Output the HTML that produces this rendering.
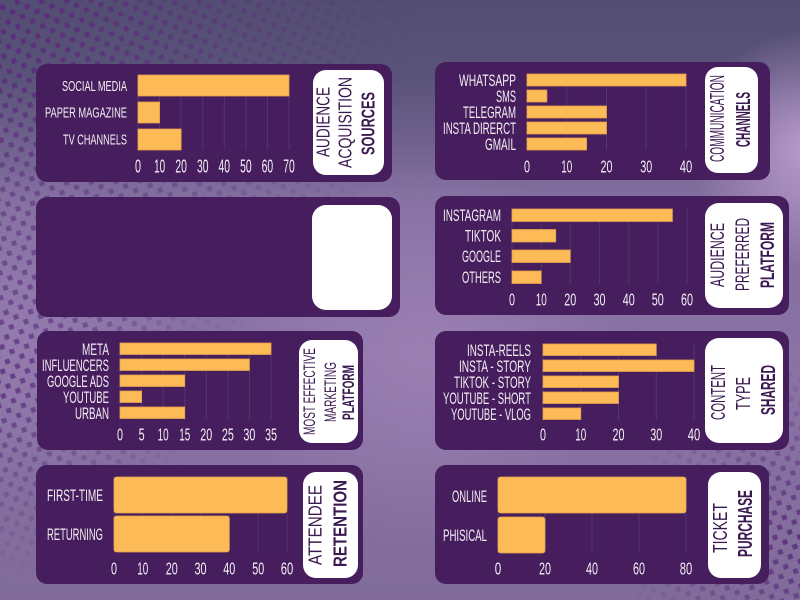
<!DOCTYPE html>
<html><head><meta charset="utf-8"><style>
html,body{margin:0;padding:0;background:#6e5f8e;}
svg{display:block;}
.lb{font-family:"Liberation Sans Narrow","Liberation Sans",sans-serif;fill:#f3edf3;}
.tt{font-family:"Liberation Sans Narrow","Liberation Sans",sans-serif;fill:#3a1850;}
.b{font-weight:bold;}
.bar{fill:#fdbb58;stroke:#e0a24a;stroke-width:0.8;}
.gl{stroke:#573271;stroke-width:1;}
.pn{fill:#461e5d;}
.wb{fill:#ffffff;}
</style></head><body>
<svg width="800" height="600" viewBox="0 0 800 600" xmlns="http://www.w3.org/2000/svg">
<defs>
<linearGradient id="bgv" x1="0" y1="0" x2="0" y2="1">
<stop offset="0" stop-color="#534d73"/>
<stop offset="0.13" stop-color="#5a5379"/>
<stop offset="0.33" stop-color="#826e9f"/>
<stop offset="0.6" stop-color="#8a73a6"/>
<stop offset="1" stop-color="#806b9a"/>
</linearGradient>
<radialGradient id="rtr" cx="810" cy="150" r="120" gradientUnits="userSpaceOnUse">
<stop offset="0" stop-color="#c3a2d6" stop-opacity="0.9"/>
<stop offset="1" stop-color="#c3a2d6" stop-opacity="0"/>
</radialGradient>
<radialGradient id="rmid" cx="420" cy="350" r="200" gradientUnits="userSpaceOnUse">
<stop offset="0" stop-color="#a788bb" stop-opacity="0.6"/>
<stop offset="1" stop-color="#a788bb" stop-opacity="0"/>
</radialGradient>
<radialGradient id="rl" cx="20" cy="330" r="160" gradientUnits="userSpaceOnUse">
<stop offset="0" stop-color="#9a80b4" stop-opacity="0.6"/>
<stop offset="1" stop-color="#9a80b4" stop-opacity="0"/>
</radialGradient>
<pattern id="dots" width="11" height="11" patternUnits="userSpaceOnUse" patternTransform="rotate(25)">
<rect x="3" y="3" width="5" height="5" transform="rotate(45 5.5 5.5)" fill="#5b2c7c"/>
</pattern>
<radialGradient id="m1" cx="0" cy="0" r="420" gradientUnits="userSpaceOnUse">
<stop offset="0" stop-color="#fff" stop-opacity="1"/>
<stop offset="1" stop-color="#fff" stop-opacity="0"/>
</radialGradient>
<radialGradient id="m2" cx="0" cy="380" r="200" gradientUnits="userSpaceOnUse">
<stop offset="0" stop-color="#fff" stop-opacity="0.8"/>
<stop offset="1" stop-color="#fff" stop-opacity="0"/>
</radialGradient>
<radialGradient id="m3" cx="800" cy="540" r="180" gradientUnits="userSpaceOnUse">
<stop offset="0" stop-color="#fff" stop-opacity="0.9"/>
<stop offset="1" stop-color="#fff" stop-opacity="0"/>
</radialGradient>
<mask id="dm">
<rect width="800" height="600" fill="url(#m1)"/>
<rect width="800" height="600" fill="url(#m2)"/>
<rect width="800" height="600" fill="url(#m3)"/>
</mask>
</defs>

<!-- background -->
<rect width="800" height="600" fill="url(#bgv)"/>
<rect width="800" height="600" fill="url(#rtr)"/>
<rect width="800" height="600" fill="url(#rmid)"/>
<rect width="800" height="600" fill="url(#rl)"/>
<rect width="800" height="600" fill="url(#dots)" mask="url(#dm)"/>

<!-- ===== Panel 1 ===== -->
<rect class="pn" x="36" y="64" width="356" height="118" rx="11"/>
<rect class="wb" x="313" y="70" width="71" height="105" rx="13"/>
<g>
<line class="gl" x1="159.6" y1="75" x2="159.6" y2="150"/><line class="gl" x1="181.1" y1="75" x2="181.1" y2="150"/><line class="gl" x1="202.7" y1="75" x2="202.7" y2="150"/><line class="gl" x1="224.3" y1="75" x2="224.3" y2="150"/><line class="gl" x1="245.9" y1="75" x2="245.9" y2="150"/><line class="gl" x1="267.4" y1="75" x2="267.4" y2="150"/><line class="gl" x1="289" y1="75" x2="289" y2="150"/>
<line class="gl" x1="138" y1="75" x2="138" y2="150"/>
<rect class="bar" x="138" y="75" width="151" height="21"/>
<rect class="bar" x="138" y="102" width="21.6" height="21"/>
<rect class="bar" x="138" y="129" width="43.1" height="21"/>
<text class="lb" font-size="14.5" text-anchor="end" x="127" y="91.2" textLength="65" lengthAdjust="spacingAndGlyphs">SOCIAL MEDIA</text>
<text class="lb" font-size="14.5" text-anchor="end" x="127" y="117.7" textLength="82" lengthAdjust="spacingAndGlyphs">PAPER MAGAZINE</text>
<text class="lb" font-size="14.5" text-anchor="end" x="127" y="144.7" textLength="64" lengthAdjust="spacingAndGlyphs">TV CHANNELS</text>
<g font-size="18" text-anchor="middle">
<text class="lb" x="138" y="172.4" textLength="6" lengthAdjust="spacingAndGlyphs">0</text>
<text class="lb" x="159.6" y="172.4" textLength="11" lengthAdjust="spacingAndGlyphs">10</text>
<text class="lb" x="181.1" y="172.4" textLength="11.5" lengthAdjust="spacingAndGlyphs">20</text>
<text class="lb" x="202.7" y="172.4" textLength="11.5" lengthAdjust="spacingAndGlyphs">30</text>
<text class="lb" x="224.3" y="172.4" textLength="11.5" lengthAdjust="spacingAndGlyphs">40</text>
<text class="lb" x="245.9" y="172.4" textLength="11.5" lengthAdjust="spacingAndGlyphs">50</text>
<text class="lb" x="267.4" y="172.4" textLength="11.5" lengthAdjust="spacingAndGlyphs">60</text>
<text class="lb" x="289" y="172.4" textLength="11.5" lengthAdjust="spacingAndGlyphs">70</text>
</g>
<g font-size="18" text-anchor="middle">
<text class="tt" transform="translate(323,122) rotate(-90)" y="6.4" textLength="70" lengthAdjust="spacingAndGlyphs">AUDIENCE</text>
<text class="tt" transform="translate(345,122.5) rotate(-90)" y="6.4" textLength="91" lengthAdjust="spacingAndGlyphs">ACQUISITION</text>
<text class="tt b" transform="translate(368,123.5) rotate(-90)" y="6.4" textLength="63" lengthAdjust="spacingAndGlyphs">SOURCES</text>
</g>
</g>

<!-- ===== Panel 2 ===== -->
<rect class="pn" x="435" y="62" width="335" height="118" rx="11"/>
<rect class="wb" x="705" y="67" width="53" height="106" rx="13"/>
<g>
<line class="gl" x1="527" y1="74" x2="527" y2="150"/><line class="gl" x1="566.75" y1="74" x2="566.75" y2="150"/><line class="gl" x1="606.5" y1="74" x2="606.5" y2="150"/><line class="gl" x1="646.25" y1="74" x2="646.25" y2="150"/><line class="gl" x1="686" y1="74" x2="686" y2="150"/>
<rect class="bar" x="527" y="74" width="159" height="12"/>
<rect class="bar" x="527" y="90" width="19.9" height="12"/>
<rect class="bar" x="527" y="106" width="79.5" height="12"/>
<rect class="bar" x="527" y="122" width="79.5" height="12"/>
<rect class="bar" x="527" y="138" width="59.6" height="12"/>
<g font-size="16.5" text-anchor="end">
<text class="lb" x="516" y="85.9" textLength="57" lengthAdjust="spacingAndGlyphs">WHATSAPP</text>
<text class="lb" x="516" y="101.9" textLength="20" lengthAdjust="spacingAndGlyphs">SMS</text>
<text class="lb" x="516" y="117.9" textLength="53" lengthAdjust="spacingAndGlyphs">TELEGRAM</text>
<text class="lb" x="516" y="133.9" textLength="73" lengthAdjust="spacingAndGlyphs">INSTA DIRERCT</text>
<text class="lb" x="516" y="149.9" textLength="31" lengthAdjust="spacingAndGlyphs">GMAIL</text>
</g>
<g font-size="17.5" text-anchor="middle">
<text class="lb" x="527" y="172.3" textLength="6" lengthAdjust="spacingAndGlyphs">0</text>
<text class="lb" x="566.75" y="172.3" textLength="11" lengthAdjust="spacingAndGlyphs">10</text>
<text class="lb" x="606.5" y="172.3" textLength="12" lengthAdjust="spacingAndGlyphs">20</text>
<text class="lb" x="646.25" y="172.3" textLength="12" lengthAdjust="spacingAndGlyphs">30</text>
<text class="lb" x="686" y="172.3" textLength="12.5" lengthAdjust="spacingAndGlyphs">40</text>
</g>
<g font-size="20" text-anchor="middle">
<text class="tt" transform="translate(717,118.5) rotate(-90)" y="7.2" textLength="87" lengthAdjust="spacingAndGlyphs">COMMUNICATION</text>
<text class="tt b" transform="translate(743,119.5) rotate(-90)" y="7.2" textLength="55" lengthAdjust="spacingAndGlyphs">CHANNELS</text>
</g>
</g>

<!-- ===== Panel 3 (empty) ===== -->
<rect class="pn" x="36" y="197" width="364" height="120" rx="11"/>
<rect class="wb" x="312" y="205" width="80" height="105" rx="14"/>

<!-- ===== Panel 4 ===== -->
<rect class="pn" x="435" y="196" width="354" height="119" rx="11"/>
<rect class="wb" x="705" y="203" width="78" height="105" rx="14"/>
<g>
<line class="gl" x1="512" y1="209" x2="512" y2="284"/><line class="gl" x1="541.2" y1="209" x2="541.2" y2="284"/><line class="gl" x1="570.3" y1="209" x2="570.3" y2="284"/><line class="gl" x1="599.5" y1="209" x2="599.5" y2="284"/><line class="gl" x1="628.7" y1="209" x2="628.7" y2="284"/><line class="gl" x1="657.8" y1="209" x2="657.8" y2="284"/><line class="gl" x1="687" y1="209" x2="687" y2="284"/>
<rect class="bar" x="512" y="209" width="160.4" height="12.5"/>
<rect class="bar" x="512" y="229.5" width="43.75" height="12.5"/>
<rect class="bar" x="512" y="250" width="58.3" height="12.5"/>
<rect class="bar" x="512" y="271" width="29.2" height="12.5"/>
<g font-size="16.5" text-anchor="end">
<text class="lb" x="501" y="220.9" textLength="58" lengthAdjust="spacingAndGlyphs">INSTAGRAM</text>
<text class="lb" x="501" y="241.4" textLength="36" lengthAdjust="spacingAndGlyphs">TIKTOK</text>
<text class="lb" x="501" y="261.9" textLength="39" lengthAdjust="spacingAndGlyphs">GOOGLE</text>
<text class="lb" x="501" y="282.9" textLength="39" lengthAdjust="spacingAndGlyphs">OTHERS</text>
</g>
<g font-size="17.5" text-anchor="middle">
<text class="lb" x="512" y="305.3" textLength="6" lengthAdjust="spacingAndGlyphs">0</text>
<text class="lb" x="541.2" y="305.3" textLength="11" lengthAdjust="spacingAndGlyphs">10</text>
<text class="lb" x="570.3" y="305.3" textLength="12" lengthAdjust="spacingAndGlyphs">20</text>
<text class="lb" x="599.5" y="305.3" textLength="12" lengthAdjust="spacingAndGlyphs">30</text>
<text class="lb" x="628.7" y="305.3" textLength="12" lengthAdjust="spacingAndGlyphs">40</text>
<text class="lb" x="657.8" y="305.3" textLength="12" lengthAdjust="spacingAndGlyphs">50</text>
<text class="lb" x="687" y="305.3" textLength="12" lengthAdjust="spacingAndGlyphs">60</text>
</g>
<g font-size="19" text-anchor="middle">
<text class="tt" transform="translate(717,255) rotate(-90)" y="6.8" textLength="64" lengthAdjust="spacingAndGlyphs">AUDIENCE</text>
<text class="tt" transform="translate(742,254.5) rotate(-90)" y="6.8" textLength="73" lengthAdjust="spacingAndGlyphs">PREFERRED</text>
<text class="tt b" transform="translate(767,255) rotate(-90)" y="6.8" textLength="66" lengthAdjust="spacingAndGlyphs">PLATFORM</text>
</g>
</g>

<!-- ===== Panel 5 ===== -->
<rect class="pn" x="37" y="331" width="326" height="119" rx="11"/>
<rect class="wb" x="299" y="340" width="59" height="103" rx="13"/>
<g>
<line class="gl" x1="120" y1="343" x2="120" y2="420"/><line class="gl" x1="141.6" y1="343" x2="141.6" y2="420"/><line class="gl" x1="163.1" y1="343" x2="163.1" y2="420"/><line class="gl" x1="184.7" y1="343" x2="184.7" y2="420"/><line class="gl" x1="206.3" y1="343" x2="206.3" y2="420"/><line class="gl" x1="227.9" y1="343" x2="227.9" y2="420"/><line class="gl" x1="249.4" y1="343" x2="249.4" y2="420"/><line class="gl" x1="271" y1="343" x2="271" y2="420"/>
<rect class="bar" x="120" y="343" width="151" height="11.5"/>
<rect class="bar" x="120" y="359" width="129.4" height="11.5"/>
<rect class="bar" x="120" y="375" width="64.7" height="11.5"/>
<rect class="bar" x="120" y="391" width="21.6" height="11.5"/>
<rect class="bar" x="120" y="407" width="64.7" height="11.5"/>
<g font-size="17" text-anchor="end">
<text class="lb" x="109" y="355.1" textLength="27" lengthAdjust="spacingAndGlyphs">META</text>
<text class="lb" x="109" y="371.1" textLength="67" lengthAdjust="spacingAndGlyphs">INFLUENCERS</text>
<text class="lb" x="109" y="387.1" textLength="62" lengthAdjust="spacingAndGlyphs">GOOGLE ADS</text>
<text class="lb" x="109" y="403.1" textLength="46" lengthAdjust="spacingAndGlyphs">YOUTUBE</text>
<text class="lb" x="109" y="419.1" textLength="34" lengthAdjust="spacingAndGlyphs">URBAN</text>
</g>
<g font-size="17.5" text-anchor="middle">
<text class="lb" x="120" y="440.3" textLength="6" lengthAdjust="spacingAndGlyphs">0</text>
<text class="lb" x="141.6" y="440.3" textLength="6" lengthAdjust="spacingAndGlyphs">5</text>
<text class="lb" x="163.1" y="440.3" textLength="11" lengthAdjust="spacingAndGlyphs">10</text>
<text class="lb" x="184.7" y="440.3" textLength="11" lengthAdjust="spacingAndGlyphs">15</text>
<text class="lb" x="206.3" y="440.3" textLength="12" lengthAdjust="spacingAndGlyphs">20</text>
<text class="lb" x="227.9" y="440.3" textLength="12" lengthAdjust="spacingAndGlyphs">25</text>
<text class="lb" x="249.4" y="440.3" textLength="12" lengthAdjust="spacingAndGlyphs">30</text>
<text class="lb" x="271" y="440.3" textLength="12" lengthAdjust="spacingAndGlyphs">35</text>
</g>
<g font-size="16.5" text-anchor="middle">
<text class="tt" transform="translate(309,391.5) rotate(-90)" y="5.9" textLength="87" lengthAdjust="spacingAndGlyphs">MOST EFFECTIVE</text>
<text class="tt" transform="translate(330,392) rotate(-90)" y="5.9" textLength="60" lengthAdjust="spacingAndGlyphs">MARKETING</text>
<text class="tt b" transform="translate(348,392.5) rotate(-90)" y="5.9" textLength="55" lengthAdjust="spacingAndGlyphs">PLATFORM</text>
</g>
</g>

<!-- ===== Panel 6 ===== -->
<rect class="pn" x="435" y="331" width="354" height="119" rx="11"/>
<rect class="wb" x="705" y="338" width="78" height="105" rx="14"/>
<g>
<line class="gl" x1="543" y1="344" x2="543" y2="420"/><line class="gl" x1="580.75" y1="344" x2="580.75" y2="420"/><line class="gl" x1="618.5" y1="344" x2="618.5" y2="420"/><line class="gl" x1="656.25" y1="344" x2="656.25" y2="420"/><line class="gl" x1="694" y1="344" x2="694" y2="420"/>
<rect class="bar" x="543" y="344" width="113.25" height="11.5"/>
<rect class="bar" x="543" y="360" width="151" height="11.5"/>
<rect class="bar" x="543" y="376" width="75.5" height="11.5"/>
<rect class="bar" x="543" y="392" width="75.5" height="11.5"/>
<rect class="bar" x="543" y="408" width="37.75" height="11.5"/>
<g font-size="16.5" text-anchor="end">
<text class="lb" x="531" y="355.9" textLength="64" lengthAdjust="spacingAndGlyphs">INSTA-REELS</text>
<text class="lb" x="531" y="371.9" textLength="72" lengthAdjust="spacingAndGlyphs">INSTA - STORY</text>
<text class="lb" x="531" y="387.9" textLength="77" lengthAdjust="spacingAndGlyphs">TIKTOK - STORY</text>
<text class="lb" x="531" y="403.9" textLength="88" lengthAdjust="spacingAndGlyphs">YOUTUBE - SHORT</text>
<text class="lb" x="531" y="419.9" textLength="80" lengthAdjust="spacingAndGlyphs">YOUTUBE - VLOG</text>
</g>
<g font-size="17.5" text-anchor="middle">
<text class="lb" x="543" y="440.3" textLength="6" lengthAdjust="spacingAndGlyphs">0</text>
<text class="lb" x="580.75" y="440.3" textLength="11" lengthAdjust="spacingAndGlyphs">10</text>
<text class="lb" x="618.5" y="440.3" textLength="12" lengthAdjust="spacingAndGlyphs">20</text>
<text class="lb" x="656.25" y="440.3" textLength="12" lengthAdjust="spacingAndGlyphs">30</text>
<text class="lb" x="694" y="440.3" textLength="12.5" lengthAdjust="spacingAndGlyphs">40</text>
</g>
<g font-size="20" text-anchor="middle">
<text class="tt" transform="translate(718,392.5) rotate(-90)" y="7.2" textLength="55" lengthAdjust="spacingAndGlyphs">CONTENT</text>
<text class="tt" transform="translate(743,393.5) rotate(-90)" y="7.2" textLength="33" lengthAdjust="spacingAndGlyphs">TYPE</text>
<text class="tt b" transform="translate(768,390) rotate(-90)" y="7.2" textLength="50" lengthAdjust="spacingAndGlyphs">SHARED</text>
</g>
</g>

<!-- ===== Panel 7 ===== -->
<rect class="pn" x="36" y="465" width="327" height="119" rx="11"/>
<rect class="wb" x="303" y="472" width="55" height="106" rx="13"/>
<g>
<line class="gl" x1="114" y1="477" x2="114" y2="552"/><line class="gl" x1="142.8" y1="477" x2="142.8" y2="552"/><line class="gl" x1="171.7" y1="477" x2="171.7" y2="552"/><line class="gl" x1="200.5" y1="477" x2="200.5" y2="552"/><line class="gl" x1="229.3" y1="477" x2="229.3" y2="552"/><line class="gl" x1="258.2" y1="477" x2="258.2" y2="552"/><line class="gl" x1="287" y1="477" x2="287" y2="552"/>
<rect class="bar" x="114" y="477" width="173" height="36" rx="2.5"/>
<rect class="bar" x="114" y="516" width="115.3" height="36" rx="2.5"/>
<g font-size="16.5" text-anchor="end">
<text class="lb" x="103" y="500.9" textLength="56" lengthAdjust="spacingAndGlyphs">FIRST-TIME</text>
<text class="lb" x="103" y="539.9" textLength="56" lengthAdjust="spacingAndGlyphs">RETURNING</text>
</g>
<g font-size="17.5" text-anchor="middle">
<text class="lb" x="114" y="574.3" textLength="6" lengthAdjust="spacingAndGlyphs">0</text>
<text class="lb" x="142.8" y="574.3" textLength="11" lengthAdjust="spacingAndGlyphs">10</text>
<text class="lb" x="171.7" y="574.3" textLength="12" lengthAdjust="spacingAndGlyphs">20</text>
<text class="lb" x="200.5" y="574.3" textLength="12" lengthAdjust="spacingAndGlyphs">30</text>
<text class="lb" x="229.3" y="574.3" textLength="12" lengthAdjust="spacingAndGlyphs">40</text>
<text class="lb" x="258.2" y="574.3" textLength="12" lengthAdjust="spacingAndGlyphs">50</text>
<text class="lb" x="287" y="574.3" textLength="12.5" lengthAdjust="spacingAndGlyphs">60</text>
</g>
<g font-size="18" text-anchor="middle">
<text class="tt" transform="translate(315,525) rotate(-90)" y="6.4" textLength="80" lengthAdjust="spacingAndGlyphs">ATTENDEE</text>
<text class="tt b" transform="translate(340,523.5) rotate(-90)" y="6.4" textLength="87" lengthAdjust="spacingAndGlyphs">RETENTION</text>
</g>
</g>

<!-- ===== Panel 8 ===== -->
<rect class="pn" x="435" y="465" width="334" height="119" rx="11"/>
<rect class="wb" x="708" y="472" width="53" height="106" rx="13"/>
<g>
<line class="gl" x1="498" y1="477" x2="498" y2="553"/><line class="gl" x1="545" y1="477" x2="545" y2="553"/><line class="gl" x1="592" y1="477" x2="592" y2="553"/><line class="gl" x1="639" y1="477" x2="639" y2="553"/><line class="gl" x1="686" y1="477" x2="686" y2="553"/>
<rect class="bar" x="498" y="477" width="188" height="36" rx="2.5"/>
<rect class="bar" x="498" y="517" width="47" height="36" rx="2.5"/>
<g font-size="16.5" text-anchor="end">
<text class="lb" x="487" y="501.9" textLength="35" lengthAdjust="spacingAndGlyphs">ONLINE</text>
<text class="lb" x="487" y="540.9" textLength="44" lengthAdjust="spacingAndGlyphs">PHISICAL</text>
</g>
<g font-size="17.5" text-anchor="middle">
<text class="lb" x="498" y="574.3" textLength="6.5" lengthAdjust="spacingAndGlyphs">0</text>
<text class="lb" x="545" y="574.3" textLength="12" lengthAdjust="spacingAndGlyphs">20</text>
<text class="lb" x="592" y="574.3" textLength="12" lengthAdjust="spacingAndGlyphs">40</text>
<text class="lb" x="639" y="574.3" textLength="12" lengthAdjust="spacingAndGlyphs">60</text>
<text class="lb" x="686" y="574.3" textLength="12.5" lengthAdjust="spacingAndGlyphs">80</text>
</g>
<g font-size="20" text-anchor="middle">
<text class="tt" transform="translate(720,528) rotate(-90)" y="7.2" textLength="50" lengthAdjust="spacingAndGlyphs">TICKET</text>
<text class="tt b" transform="translate(745,523.5) rotate(-90)" y="7.2" textLength="67" lengthAdjust="spacingAndGlyphs">PURCHASE</text>
</g>
</g>
</svg>
</body></html>
